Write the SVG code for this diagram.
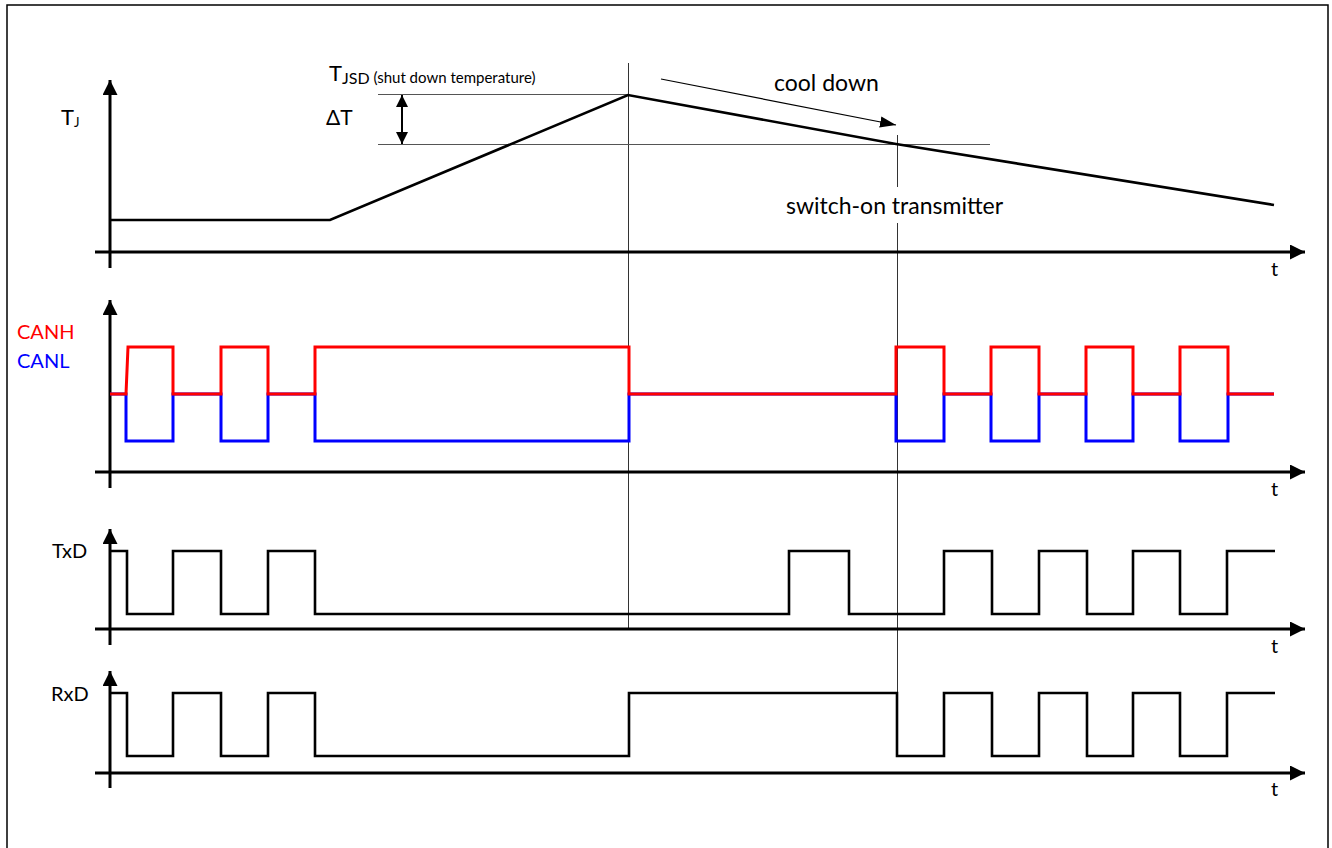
<svg xmlns="http://www.w3.org/2000/svg" width="1332" height="848" viewBox="0 0 1332 848">
<defs>
<style>
.axis{stroke:#000;stroke-width:3;fill:none}
.wave{stroke:#000;stroke-width:2.6;fill:none;stroke-linejoin:miter}
.ref{stroke:#333;stroke-width:1;fill:none}
.thin{stroke:#555;stroke-width:1.2;fill:none}
.lbl{font-family:Lato,"Open Sans","Liberation Sans",sans-serif;font-size:20px;fill:#000}
.big{font-size:23px}
.t{font-family:Lato,"Open Sans","Liberation Sans",sans-serif;font-size:20px;fill:#000}
.canh{stroke:#ff0000;stroke-width:3;fill:none}
.canl{stroke:#0000ff;stroke-width:3;fill:none}
</style>
<marker id="ah" viewBox="0 0 10 10" refX="10" refY="5" markerWidth="15" markerHeight="15" markerUnits="userSpaceOnUse" orient="auto">
<path d="M0,0 L10,5 L0,10 z" fill="#000"/>
</marker>
<marker id="ahs" viewBox="0 0 10 10" refX="10" refY="5" markerWidth="12" markerHeight="12" markerUnits="userSpaceOnUse" orient="auto-start-reverse">
<path d="M0,0 L10,5 L0,10 z" fill="#000"/>
</marker>
<marker id="ahc" viewBox="0 0 10 10" refX="10" refY="5" markerWidth="16" markerHeight="16" markerUnits="userSpaceOnUse" orient="auto">
<path d="M0,1.5 L10,5 L0,8.5 z" fill="#000"/>
</marker>
</defs>
<rect x="0" y="0" width="1332" height="848" fill="#fff"/>
<path d="M7,850 V5 H1328 V850" fill="none" stroke="#000" stroke-width="1.5"/>

<g id="connectors">
<line class="ref" x1="628.5" y1="63" x2="628.5" y2="630"/>
<line class="ref" x1="897.5" y1="135" x2="897.5" y2="187"/>
<line class="ref" x1="897.5" y1="223" x2="897.5" y2="692"/>
<line class="thin" x1="378" y1="94.5" x2="628" y2="94.5"/>
<line class="thin" x1="378" y1="144.5" x2="990" y2="144.5"/>
<line x1="402" y1="95" x2="402" y2="144" stroke="#000" stroke-width="2" marker-start="url(#ahs)" marker-end="url(#ahs)"/>
<line x1="661" y1="79" x2="896" y2="125" stroke="#000" stroke-width="1.2" marker-end="url(#ahc)"/>
</g>

<g id="tj-chart">
<line class="axis" x1="110" y1="268" x2="110" y2="80" marker-end="url(#ah)"/>
<line class="axis" x1="95" y1="252" x2="1305" y2="252" marker-end="url(#ah)"/>
<polyline class="wave" points="110,220 330,220 628,95 896,144 1274,205"/>
<text class="lbl" x="61" y="125" style="font-size:22px">T<tspan style="font-size:13px" dy="2">J</tspan></text>
<text class="t" x="1271" y="276">t</text>
<text class="lbl" x="329" y="81" style="font-size:22px">T<tspan style="font-size:16px" dy="3">JSD</tspan><tspan style="font-size:15px" dy="-1"> (shut down temperature)</tspan></text>
<text class="lbl" x="326" y="125" style="font-size:21px">ΔT</text>
<text class="lbl big" x="774" y="91">cool down</text>
<text class="lbl big" x="786" y="214">switch-on transmitter</text>
</g>

<g id="can-chart">
<line class="axis" x1="110" y1="488" x2="110" y2="300" marker-end="url(#ah)"/>
<line class="axis" x1="95" y1="472" x2="1305" y2="472" marker-end="url(#ah)"/>
<path class="canl" d="M110,394 H126 V441 H173 V394 H221 V441 H268 V394 H315 V441 H629 V394 H896 V441 H944 V394 H991 V441 H1039 V394 H1086 V441 H1133 V394 H1180 V441 H1228 V394 H1274"/>
<path class="canh" d="M110,394 H126 L128,347 H173 V394 H221 V347 H268 V394 H315 V347 H629 V394 H896 V347 H944 V394 H991 V347 H1039 V394 H1086 V347 H1133 V394 H1180 V347 H1228 V394 H1274"/>
<text class="lbl" x="17" y="339" style="fill:#ff0000">CANH</text>
<text class="lbl" x="17" y="368" style="fill:#0000ff">CANL</text>
<text class="t" x="1271" y="496">t</text>
</g>

<g id="txd-chart">
<line class="axis" x1="110" y1="645" x2="110" y2="529" marker-end="url(#ah)"/>
<line class="axis" x1="95" y1="629" x2="1305" y2="629" marker-end="url(#ah)"/>
<path class="wave" d="M110,551 H127 V614 H173 V551 H221 V614 H268 V551 H315 V614 H789 V551 H849 V614 H944 V551 H992 V614 H1039 V551 H1087 V614 H1133 V551 H1180 V614 H1227 V551 H1275"/>
<text class="lbl" x="52" y="558">TxD</text>
<text class="t" x="1271" y="653">t</text>
</g>

<g id="rxd-chart">
<line class="axis" x1="110" y1="788" x2="110" y2="671" marker-end="url(#ah)"/>
<line class="axis" x1="95" y1="773" x2="1305" y2="773" marker-end="url(#ah)"/>
<path class="wave" d="M110,693 H127 V756 H173 V693 H221 V756 H268 V693 H315 V756 H629 V693 H897 V756 H944 V693 H992 V756 H1039 V693 H1087 V756 H1133 V693 H1180 V756 H1227 V693 H1275"/>
<text class="lbl" x="51" y="701">RxD</text>
<text class="t" x="1271" y="796">t</text>
</g>
</svg>
